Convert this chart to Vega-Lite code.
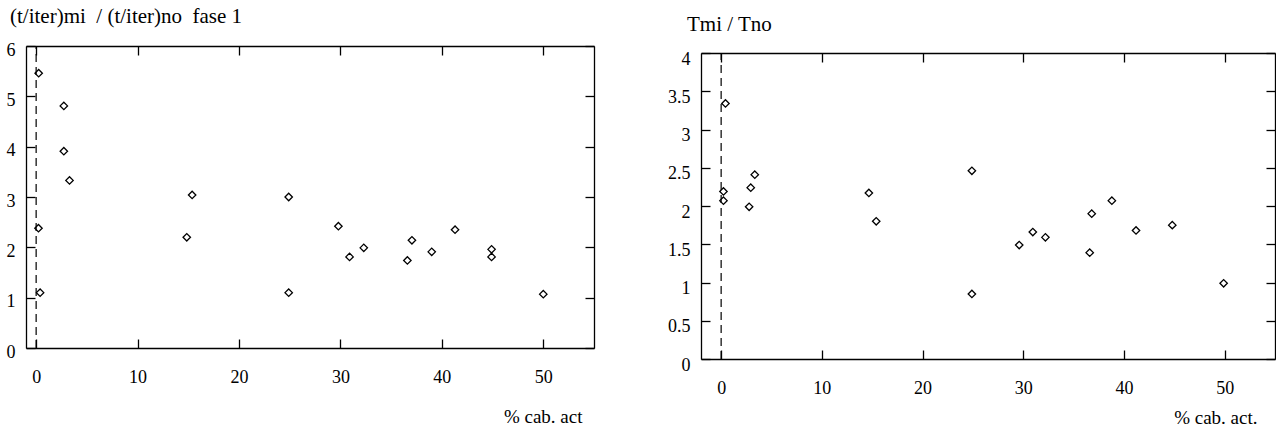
{
  "$schema": "https://vega.github.io/schema/vega-lite/v6.json",
  "padding": {"left": 6, "top": 6, "right": 0, "bottom": 0},
  "config": {
    "view": {"stroke": null},
    "font": "Liberation Serif",
    "axis": {"grid": false, "domainColor": "#000", "domainWidth": 1.3, "tickColor": "#000", "tickWidth": 1.3, "tickSize": -9,
      "labelFont": "Liberation Serif", "labelFontSize": 18, "labelColor": "#000",
      "titleFont": "Liberation Serif", "titleFontSize": 19, "titleFontWeight": "normal", "titleColor": "#000"},
    "title": {"font": "Liberation Serif", "fontSize": 21, "fontWeight": "normal", "color": "#000", "anchor": "start", "frame": "group", "baseline": "alphabetic"},
    "concat": {"spacing": 72}
  },
  "datasets": {
    "p1": [
      {"x": 0.25, "y": 5.46}, {"x": 2.73, "y": 4.81}, {"x": 2.73, "y": 3.91}, {"x": 3.29, "y": 3.33},
      {"x": 0.23, "y": 2.38}, {"x": 0.39, "y": 1.10}, {"x": 15.38, "y": 3.04}, {"x": 14.85, "y": 2.20},
      {"x": 24.9, "y": 3.0}, {"x": 24.9, "y": 1.10}, {"x": 29.8, "y": 2.42}, {"x": 30.9, "y": 1.81},
      {"x": 32.3, "y": 1.99}, {"x": 36.6, "y": 1.74}, {"x": 37.05, "y": 2.14}, {"x": 39.0, "y": 1.91},
      {"x": 41.3, "y": 2.35}, {"x": 44.9, "y": 1.96}, {"x": 44.9, "y": 1.81}, {"x": 50.0, "y": 1.07}
    ],
    "p2": [
      {"x": 0.43, "y": 3.34}, {"x": 0.23, "y": 2.19}, {"x": 0.23, "y": 2.07}, {"x": 2.78, "y": 1.99},
      {"x": 2.94, "y": 2.24}, {"x": 3.34, "y": 2.41}, {"x": 14.67, "y": 2.17}, {"x": 15.4, "y": 1.80},
      {"x": 24.9, "y": 2.46}, {"x": 24.9, "y": 0.85}, {"x": 29.6, "y": 1.49}, {"x": 30.95, "y": 1.66},
      {"x": 32.2, "y": 1.59}, {"x": 36.6, "y": 1.39}, {"x": 36.8, "y": 1.90}, {"x": 38.8, "y": 2.07},
      {"x": 41.2, "y": 1.68}, {"x": 44.8, "y": 1.75}, {"x": 49.9, "y": 0.99}
    ],
    "r1": [{"x": 0, "y": 0, "y2": 6}],
    "r2": [{"x": 0, "y": 0, "y2": 4}]
  },
  "hconcat": [
    {
      "width": 568, "height": 302,
      "title": {"text": "(t/iter)mi\u00a0\u00a0/ (t/iter)no\u00a0\u00a0fase 1", "dx": -16, "offset": 14},
      "layer": [
        {
          "data": {"name": "p1"},
          "mark": {"type": "point", "shape": "diamond", "filled": false, "size": 55, "stroke": "#000", "strokeWidth": 1.3, "opacity": 1},
          "encoding": {
            "x": {"field": "x", "type": "quantitative", "scale": {"domain": [-1, 55], "nice": false, "zero": false},
              "axis": {"orient": "bottom", "values": [0, 10, 20, 30, 40, 50], "labelPadding": 29, "title": "% cab. act",
                "titleX": 556, "titleY": 74, "titleAlign": "right", "titleBaseline": "alphabetic"}},
            "y": {"field": "y", "type": "quantitative", "scale": {"domain": [0, 6], "nice": false, "zero": false},
              "axis": {"orient": "left", "values": [0, 1, 2, 3, 4, 5, 6], "labelPadding": 20, "labelOffset": 4, "title": null}}
          }
        },
        {
          "data": {"name": "r1"},
          "mark": {"type": "rule", "strokeDash": [8, 5], "color": "#000", "strokeWidth": 1.2},
          "encoding": {
            "x": {"field": "x", "type": "quantitative", "axis": {"orient": "top", "values": [0, 10, 20, 30, 40, 50], "labels": false, "title": null}},
            "y": {"field": "y", "type": "quantitative", "axis": {"orient": "right", "values": [0, 1, 2, 3, 4, 5, 6], "labels": false, "title": null}},
            "y2": {"field": "y2"}
          }
        }
      ],
      "resolve": {"axis": {"x": "independent", "y": "independent"}}
    },
    {
      "width": 574, "height": 313,
      "title": {"text": "Tmi / Tno", "dx": -14, "offset": 11},
      "layer": [
        {
          "data": {"name": "p2"},
          "mark": {"type": "point", "shape": "diamond", "filled": false, "size": 55, "stroke": "#000", "strokeWidth": 1.3, "opacity": 1},
          "encoding": {
            "x": {"field": "x", "type": "quantitative", "scale": {"domain": [-2, 55], "nice": false, "zero": false},
              "axis": {"orient": "bottom", "values": [0, 10, 20, 30, 40, 50], "labelPadding": 29, "title": "% cab. act.",
                "titleX": 556, "titleY": 64, "titleAlign": "right", "titleBaseline": "alphabetic"}},
            "y": {"field": "y", "type": "quantitative", "scale": {"domain": [0, 4], "nice": false, "zero": false, "range": [313, 7]},
              "axis": {"orient": "left", "values": [0, 0.5, 1, 1.5, 2, 2.5, 3, 3.5, 4], "format": "~g", "labelPadding": 20, "labelOffset": 6, "title": null}}
          }
        },
        {
          "data": {"name": "r2"},
          "mark": {"type": "rule", "strokeDash": [8, 5], "color": "#000", "strokeWidth": 1.2},
          "encoding": {
            "x": {"field": "x", "type": "quantitative", "axis": {"orient": "top", "offset": -7, "values": [0, 10, 20, 30, 40, 50], "labels": false, "title": null}},
            "y": {"field": "y", "type": "quantitative", "axis": {"orient": "right", "values": [0, 0.5, 1, 1.5, 2, 2.5, 3, 3.5, 4], "labels": false, "title": null}},
            "y2": {"field": "y2"}
          }
        }
      ],
      "resolve": {"axis": {"x": "independent", "y": "independent"}}
    }
  ]
}
